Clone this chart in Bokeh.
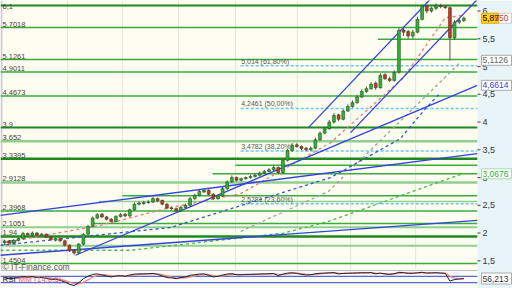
from bokeh.plotting import figure
from bokeh.models import Range1d, ColumnDataSource
from bokeh.core.properties import value
from bokeh.embed import file_html
from bokeh.resources import INLINE

FONT = "Liberation Sans"

# ---------------- price data (candles) ----------------
close = [1.85,1.82,1.87,1.90,1.99,1.97,2.00,1.96,1.98,1.93,
         1.88,1.90,1.86,1.78,1.68,1.64,1.80,1.98,2.12,2.27,
         2.33,2.29,2.25,2.21,2.30,2.33,2.31,2.42,2.52,2.54,
         2.55,2.56,2.62,2.58,2.52,2.45,2.44,2.40,2.46,2.50,
         2.62,2.68,2.75,2.77,2.70,2.62,2.67,2.80,2.92,3.00,
         2.95,2.98,3.00,3.02,3.04,3.08,3.11,3.14,3.18,3.09,
         3.31,3.49,3.58,3.56,3.52,3.50,3.53,3.68,3.80,3.88,
         4.00,4.12,4.05,4.20,4.28,4.35,4.45,4.55,4.60,4.68,
         4.62,4.84,4.78,4.75,4.89,5.65,5.62,5.55,5.62,5.85,
         6.08,6.00,6.05,6.10,6.08,6.06,5.52,5.80,5.83,5.87]
open_ = [1.83,1.86,1.82,1.87,1.90,1.99,1.96,2.00,1.95,1.98,
         1.93,1.87,1.90,1.86,1.78,1.69,1.64,1.80,1.98,2.12,
         2.27,2.34,2.29,2.25,2.21,2.30,2.34,2.31,2.42,2.52,
         2.53,2.55,2.56,2.62,2.59,2.52,2.45,2.44,2.40,2.46,
         2.50,2.62,2.68,2.74,2.77,2.70,2.62,2.67,2.80,2.92,
         3.00,2.95,2.98,3.00,3.02,3.04,3.08,3.11,3.14,3.18,
         3.09,3.31,3.49,3.59,3.56,3.53,3.50,3.53,3.68,3.80,
         3.88,4.00,4.13,4.05,4.20,4.28,4.35,4.45,4.55,4.60,
         4.70,4.62,4.85,4.78,4.75,4.90,5.66,5.63,5.55,5.62,
         5.85,6.09,6.00,6.05,6.10,6.08,6.06,5.52,5.80,5.83]
high = [1.88,1.87,1.89,1.92,2.02,2.01,2.03,2.02,2.00,1.99,
        1.95,1.92,1.91,1.88,1.80,1.71,1.82,2.00,2.15,2.30,
        2.36,2.36,2.31,2.27,2.32,2.36,2.36,2.44,2.55,2.57,
        2.58,2.59,2.65,2.64,2.60,2.54,2.48,2.46,2.49,2.53,
        2.65,2.71,2.78,2.80,2.79,2.72,2.70,2.83,2.95,3.04,
        3.02,3.00,3.02,3.05,3.07,3.11,3.14,3.17,3.21,3.20,
        3.34,3.52,3.62,3.62,3.58,3.55,3.56,3.72,3.83,3.92,
        4.04,4.16,4.15,4.23,4.32,4.39,4.49,4.59,4.64,4.72,
        4.73,4.88,4.88,4.82,4.93,5.70,5.70,5.66,5.66,5.90,
        6.12,6.11,6.08,6.14,6.13,6.10,6.08,5.84,5.87,5.90]
low = [1.81,1.80,1.80,1.85,1.88,1.95,1.94,1.94,1.94,1.91,
       1.86,1.85,1.84,1.76,1.66,1.61,1.62,1.78,1.96,2.10,
       2.25,2.27,2.23,2.19,2.19,2.28,2.29,2.29,2.40,2.50,
       2.51,2.53,2.54,2.56,2.50,2.43,2.42,2.37,2.38,2.44,
       2.48,2.60,2.66,2.72,2.68,2.60,2.60,2.65,2.78,2.90,
       2.93,2.93,2.96,2.98,3.00,3.02,3.06,3.09,3.12,3.07,
       3.07,3.29,3.46,3.54,3.49,3.47,3.48,3.51,3.66,3.78,
       3.86,3.97,4.02,4.03,4.18,4.26,4.33,4.43,4.52,4.58,
       4.58,4.60,4.76,4.72,4.73,4.87,5.55,5.50,5.50,5.60,
       5.83,5.96,5.97,6.02,6.05,6.04,5.11,5.48,5.76,5.80]

# ---------------- oscillator (bottom panel) ----------------
osc = [60,55,58,62,68,66,68,62,63,57,
       50,52,45,35,20,12,30,55,70,82,
       85,78,72,66,72,74,70,78,84,85,
       85,86,88,82,72,62,60,55,62,66,
       76,80,84,85,76,66,70,78,84,86,
       80,80,82,82,83,84,85,86,87,74,
       84,90,92,88,82,78,80,86,89,90,
       92,93,85,88,89,90,91,92,92,93,
       85,90,84,82,86,95,93,88,89,92,
       95,90,91,92,90,88,40,50,53,56]
osc_sig = [62,60,58,59,62,64,66,65,64,61,
           57,54,50,44,34,24,22,32,48,64,
           76,80,78,74,71,72,72,74,78,82,
           84,85,86,85,80,72,65,60,58,60,
           66,72,78,82,80,74,70,72,78,83,
           82,81,81,82,82,83,84,85,86,82,
           81,85,89,90,87,83,80,82,85,88,
           90,91,89,88,88,89,90,91,92,92,
           89,88,87,85,85,89,92,91,90,90,
           92,92,91,91,91,90,70,58,54,54]
osc_bands = [70, 30]

# ---------------- horizontal support / resistance levels ----------------
lvl_full = [6.1, 5.7018, 5.1261, 4.9011, 4.4673, 3.9, 3.652, 3.3395, 2.9128,
            2.3968, 2.1051, 1.94, 1.77, 1.4504]
lvl_full_label = ["6,1", "5,7018", "5,1261", "4,9011", "4,4673", "3,9", "3,652", "3,3395", "2,9128",
                  "2,3968", "2,1051", "1,94", "1,77", "1,4504"]
lvl_full_color = ["#1e8a1e", "#3cab3c", "#3cab3c", "#3cab3c", "#3cab3c", "#1e8a1e", "#8fd08f", "#1e8a1e", "#8fd08f",
                  "#3cab3c", "#8fd08f", "#1e8a1e", "#8fd08f", "#3cab3c"]
lvl_full_width = [2, 1.5, 1.5, 1.5, 1.5, 2, 2.5, 2.5, 2.5, 1.5, 2, 2.5, 2, 1.5]
lvl_part_start = [80.5, 49.8, 44.8, 25.4, 20.3, 19.2]
lvl_part_val = [5.49, 3.22, 3.07, 2.67, 2.57, 2.17]
lvl_part_color = ["#3cab3c", "#3cab3c", "#3cab3c", "#3cab3c", "#8fd08f", "#3cab3c"]

# ---------------- Fibonacci retracements ----------------
fib_val = [5.014, 4.2461, 3.4782, 2.5281]
fib_label = ["5,014 (61,80%)", "4,2461 (50,00%)", "3,4782 (38,20%)", "2,5281 (23,60%)"]
fib_start = 50.9

# ---------------- trend lines (index, value) ----------------
trend_x0 = [65.5, 74.6, 15.3, -0.9, -0.9]
trend_y0 = [3.90, 3.81, 1.60, 2.32, 1.60]
trend_x1 = [94.0, 101.9, 101.9, 101.9, 101.9]
trend_y1 = [6.41, 6.21, 4.6614, 3.43, 2.23]

# dashed average curves (index, value)
ma_red_x = [0.2, 20.7, 35.8, 50.9, 70.3, 86.0, 95.0, 98.7]
ma_red_y = [1.83, 2.14, 2.46, 2.71, 3.63, 4.80, 5.88, 5.92]
ma_blue_x = [-0.9, 35.8, 70.3, 85.3, 90.7, 94.0]
ma_blue_y = [1.78, 2.10, 3.00, 3.70, 4.24, 4.53]
ma_gray_x = [50.9, 69.8, 98.3]
ma_gray_y = [2.03, 2.75, 5.08]
ma_green_x = [-0.9, 27.2, 60.1, 69.8, 98.7]
ma_green_y = [1.69, 1.69, 2.00, 2.21, 3.0676]

vgrid_x = [13.6, 25.4, 37.5, 49.8, 63.1, 74.6, 88.6]

# right scale
y_ticks = [1.5, 2, 2.5, 3, 3.5, 4, 4.5, 5, 5.5, 6]
y_tick_labels = ["1,5", "2", "2,5", "3", "3,5", "4", "4,5", "5", "5,5", "6"]

# value tags on the right scale
tag_val = [5.87, 5.87, 5.1126, 4.6614, 3.0676]
tag_text = ["5,8550", "5,87", "5,1126", "4,6614", "3,0676"]
tag_color = ["#dd3333", "#333333", "#666666", "#3344cc", "#33aa33"]
tag_bg = ["#ffffff", "#ffd21a", "#ffffff", "#ffffff", "#ffffff"]
tag_border = ["#cccccc", "#e0b000", "#aaaaaa", "#aaaaaa", "#aaddaa"]
tag_w = [30, 17, 30, 30, 30]
osc_tag_val = [56.213]
osc_tag_text = ["56,213"]

# ---------------- figure ----------------
X0, X_FRAME, X_END = -0.862, 101.94, 109.48     # left edge, end of chart area, right edge
Y_TOP, Y_BOT = 6.19, 1.001
PX = (X_END - X0) / 512.0                          # one pixel in x units

p = figure(width=512, height=288, output_backend="svg", toolbar_location=None,
           x_range=Range1d(X0, X_END), y_range=Range1d(Y_BOT, Y_TOP),
           x_axis_location=None, y_axis_location=None,
           min_border=0)
p.extra_y_ranges = {"osc": Range1d(-6.25, 1793.75)}
p.background_fill_color = "#fdfdf1"
p.border_fill_color = "#fdfdf1"
p.outline_line_color = None
p.xgrid.grid_line_color = None
p.ygrid.grid_line_color = None

# vertical grid
for gx in vgrid_x:
    p.segment(x0=gx, x1=gx, y0=1.35, y1=Y_TOP, line_color="#e4e4da", line_width=1)
p.segment(x0=X0 + PX, x1=X0 + PX, y0=Y_BOT, y1=Y_TOP, line_color="#cfcfcf", line_width=2)

# horizontal levels
for v, c, w in zip(lvl_full, lvl_full_color, lvl_full_width):
    p.segment(x0=X0, x1=X_FRAME, y0=v, y1=v, line_color=c, line_width=w)
for s, v, c in zip(lvl_part_start, lvl_part_val, lvl_part_color):
    p.segment(x0=s, x1=X_FRAME, y0=v, y1=v, line_color=c, line_width=1.5)
p.text(x=[X0 + 2 * PX] * (len(lvl_full) - 1), y=lvl_full[1:], text=lvl_full_label[1:], text_font=value(FONT),
       text_font_size="7.5px", text_color="#444444", text_baseline="bottom", y_offset=-1)
# top level label sits against the upper edge
p.text(x=[X0 + 2 * PX], y=lvl_full[:1], text=lvl_full_label[:1], text_font=value(FONT),
       text_font_size="7.5px", text_color="#444444", text_baseline="bottom", y_offset=4)

# fibonacci
for v in fib_val:
    p.segment(x0=fib_start, x1=X_FRAME, y0=v, y1=v, line_color="#66c8f0", line_width=1.5, line_dash="3 2")
p.text(x=[fib_start + 0.1] * len(fib_val), y=fib_val, text=fib_label, text_font=value(FONT),
       text_font_size="7px", text_color="#555555", text_baseline="bottom", y_offset=-1)

# dashed curves
p.line(ma_green_x, ma_green_y, line_color="#44bb44", line_width=1.3, line_dash="3 3")
p.line(ma_gray_x, ma_gray_y, line_color="#a0a0a0", line_width=1.3, line_dash="3 3")
p.line(ma_blue_x, ma_blue_y, line_color="#3355cc", line_width=1.3, line_dash="3 3")
p.line(ma_red_x, ma_red_y, line_color="#ee7777", line_width=1.3, line_dash="3 3")

# trend lines
p.segment(x0=trend_x0, y0=trend_y0, x1=trend_x1, y1=trend_y1, line_color="#3344dd", line_width=1.3)

# candles
idx = list(range(len(close)))
up_color = ["#2fb52f" if c >= o else "#dd2a1a" for o, c in zip(open_, close)]
src = ColumnDataSource(dict(x=idx, o=open_, c=close, h=high, l=low, col=up_color,
                            top=[max(a, b) for a, b in zip(open_, close)],
                            bot=[min(a, b) for a, b in zip(open_, close)]))
p.segment(x0="x", x1="x", y0="l", y1="h", source=src, line_color="#555555", line_width=1)
p.vbar(x="x", top="top", bottom="bot", width=0.62, source=src, fill_color="col",
       line_color="#2a4a2a", line_width=0.6)

# ---------------- oscillator panel ----------------
p.quad(left=X0, right=X_FRAME, bottom=-6.25, top=106, fill_color="#fbfbf8", line_color=None, y_range_name="osc")
p.segment(x0=X0, x1=X_FRAME, y0=106, y1=106, line_color="#bbbbbb", line_width=1, y_range_name="osc")
for b in osc_bands:
    p.segment(x0=X0, x1=X_FRAME, y0=b, y1=b, line_color="#3344cc", line_width=1, y_range_name="osc")
p.line(idx, osc_sig, line_color="#ee8888", line_width=1.3, y_range_name="osc")
p.line(idx, osc, line_color="#222222", line_width=1, y_range_name="osc")
p.text(x=[X0 + 2 * PX], y=[50], text=["RSI"], text_font=value(FONT), text_font_size="8px",
       text_color="#222222", text_baseline="middle", y_range_name="osc")
p.text(x=[X0 + 18 * PX], y=[50], text=["MM (14,0,5)"], text_font=value(FONT), text_font_size="8px",
       text_color="#ee6677", text_baseline="middle", y_range_name="osc")

# watermark, just above the oscillator panel
p.text(x=[X0 + 2 * PX], y=[1.4504], text=["\u00a9 IT-Finance.com"], text_font=value(FONT),
       text_font_size="8.5px", text_color="#555555", text_baseline="middle", y_offset=3)

# ---------------- right price scale ----------------
p.quad(left=X_FRAME, right=X_END, bottom=Y_BOT, top=Y_TOP, fill_color="#e9f4f8", line_color=None)
p.segment(x0=[X_FRAME] * len(y_ticks), x1=[X_FRAME + 3 * PX] * len(y_ticks), y0=y_ticks, y1=y_ticks,
          line_color="#444444", line_width=1)
p.text(x=[X_FRAME + 5 * PX] * len(y_ticks), y=y_ticks, text=y_tick_labels, text_font=value(FONT),
       text_font_size="9px", text_color="#333333", text_baseline="middle")

# tags
tx = X_FRAME + 4 * PX
p.rect(x=[tx + w / 2 * PX for w in tag_w], y=tag_val, width=tag_w, height=[10] * len(tag_val),
       width_units="screen", height_units="screen", fill_color=tag_bg, line_color=tag_border, line_width=1)
p.text(x=[tx + PX] * len(tag_val), y=tag_val, text=tag_text, text_font=value(FONT), text_font_size="8.5px",
       text_color=tag_color, text_baseline="middle")
p.rect(x=[tx + 15 * PX], y=osc_tag_val, width=30, height=11, width_units="screen", height_units="screen",
       fill_color="#ffffff", line_color="#aaaaaa", y_range_name="osc")
p.text(x=[tx + PX], y=osc_tag_val, text=osc_tag_text, text_font=value(FONT), text_font_size="8.5px",
       text_color="#333333", text_baseline="middle", y_range_name="osc")

open("out.html", "w").write(file_html(p, INLINE))
